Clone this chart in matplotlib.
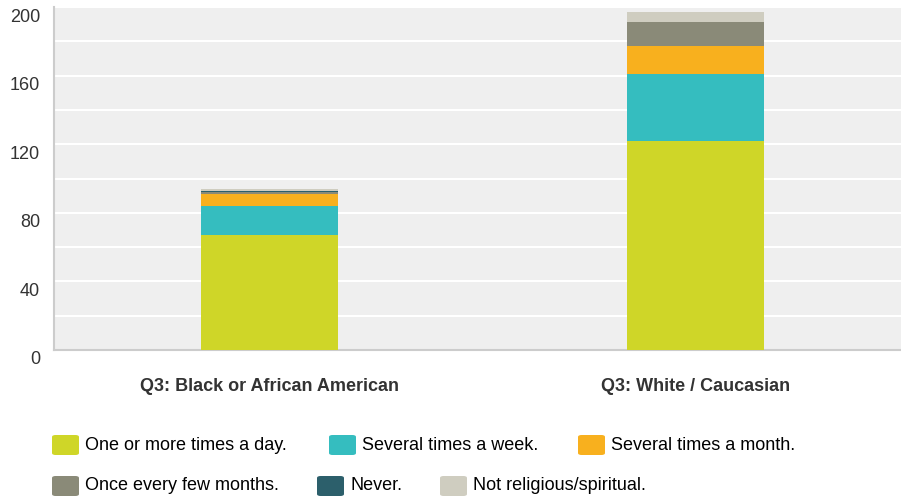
import numpy as np
import matplotlib.pyplot as plt
from matplotlib.patches import FancyBboxPatch
from matplotlib.transforms import ScaledTranslation

plt.rcParams['font.family'] = ['Liberation Sans', 'DejaVu Sans']

categories = ['Q3: Black or African American', 'Q3: White / Caucasian']
series_names = ['One or more times a day.', 'Several times a week.', 'Several times a month.',
                'Once every few months.', 'Never.', 'Not religious/spiritual.']
colors = ['#cfd628', '#35bdbf', '#f8b01e', '#8a8a78', '#2c5f6b', '#cfcdc0']

day = [67, 122]
week = [17, 39]
month = [7, 16]
few_months = [1, 14]
never = [1, 0]
not_religious = [1, 6]
series = [day, week, month, few_months, never, not_religious]

fig = plt.figure(figsize=(9.01, 4.99), dpi=100)
ax = fig.add_axes([54 / 901, 1 - 350 / 499, 847 / 901, 343 / 499])
ax.set_facecolor('#efefef')

x = np.arange(len(categories))
bottom = np.zeros(len(categories))
for vals, col in zip(series, colors):
    ax.bar(x, vals, width=0.32, bottom=bottom, color=col, zorder=3)
    bottom += np.array(vals)

ax.set_xlim(-0.506, 1.482)
ax.set_ylim(0, 200)
ax.set_yticks(np.arange(0, 201, 40))
ax.set_yticks(np.arange(20, 200, 40), minor=True)
ax.grid(axis='y', which='both', color='white', linewidth=1.5, zorder=1)
ax.tick_params(axis='y', which='both', length=0, labelsize=13, labelcolor='#333333', pad=10)
ax.tick_params(axis='x', length=0)
ax.set_xticks(x)
ax.set_xticklabels(categories, fontsize=13, fontweight='bold', color='#333333')
ax.tick_params(axis='x', pad=20)
# y labels sit a bit lower than their gridlines
off = ScaledTranslation(0, -8 / 100, fig.dpi_scale_trans)
for lab in ax.get_yticklabels():
    lab.set_transform(lab.get_transform() + off)

for s in ['top', 'right']:
    ax.spines[s].set_visible(False)
for s in ['left', 'bottom']:
    ax.spines[s].set_color('#cccccc')
    ax.spines[s].set_linewidth(1.5)

# legend, laid out like the original flow layout
legend_pos = [(52, 445), (329, 445), (578, 445), (52, 486), (317, 486), (440, 486)]
for (px, py), name, col in zip(legend_pos, series_names, colors):
    box = FancyBboxPatch((px / 901, 1 - (py + 10) / 499), 27 / 901, 20 / 499,
                         boxstyle='round,pad=0,rounding_size=0.004',
                         transform=fig.transFigure, facecolor=col, edgecolor='none')
    fig.patches.append(box)
    fig.text((px + 33) / 901, 1 - py / 499, name, fontsize=13, color='#000000', va='center')

fig.savefig('out.png', dpi=100)
